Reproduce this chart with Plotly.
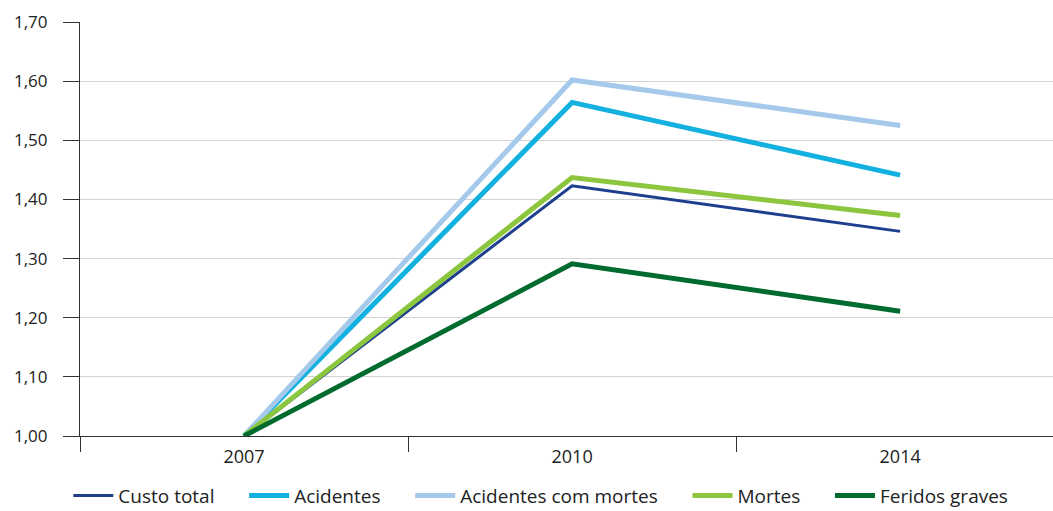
import plotly.graph_objects as go

years = ["2007", "2010", "2014"]
custo_total = [1.00, 1.423, 1.346]
acidentes = [1.00, 1.564, 1.441]
acidentes_mortes = [1.00, 1.602, 1.525]
mortes = [1.00, 1.437, 1.373]
feridos_graves = [1.00, 1.291, 1.211]
y_ticks = [1.0, 1.1, 1.2, 1.3, 1.4, 1.5, 1.6, 1.7]

series = [
    ("Custo total", custo_total, "#1e3f8e", 3),
    ("Acidentes", acidentes, "#13b1df", 5),
    ("Acidentes com mortes", acidentes_mortes, "#a4c9ea", 5),
    ("Mortes", mortes, "#8cc63f", 5),
    ("Feridos graves", feridos_graves, "#006b2e", 5),
]

FONT = "Open Sans, sans-serif"
PAD = "\u00a0" * 5

fig = go.Figure()
for name, vals, color, w in series:
    fig.add_trace(go.Scatter(x=years, y=vals, name=name + PAD, mode="lines",
                             line=dict(color=color, width=w)))

fig.update_layout(
    width=1053, height=511,
    margin=dict(l=80, r=0, t=22, b=75, autoexpand=False),
    paper_bgcolor="white", plot_bgcolor="white",
    separators=", ",
    font=dict(family=FONT, size=17, color="#222"),
    showlegend=True,
    legend=dict(orientation="h", x=-0.012, xanchor="left", y=-0.190, yanchor="bottom",
                font=dict(size=19, color="#222"), itemwidth=40,
                tracegroupgap=0, bgcolor="rgba(0,0,0,0)"),
)
fig.update_xaxes(type="category", range=[-0.5, 2.466], showline=True,
                 linecolor="#333", linewidth=1.2, tickson="boundaries",
                 ticks="outside", ticklen=15, tickcolor="#333", tickwidth=1.2,
                 showgrid=False, tickfont=dict(size=18), ticklabelstandoff=4)
fig.update_yaxes(range=[1.0, 1.7], tickvals=y_ticks, tickformat=".2f",
                 showline=True, linecolor="#333", linewidth=1.2,
                 ticks="outside", ticklen=16, tickcolor="#333", tickwidth=1.2,
                 showgrid=True, gridcolor="#d3d3d3", gridwidth=1.2,
                 zeroline=False, tickfont=dict(size=17), ticklabelstandoff=12)

fig.write_html("out.html")
